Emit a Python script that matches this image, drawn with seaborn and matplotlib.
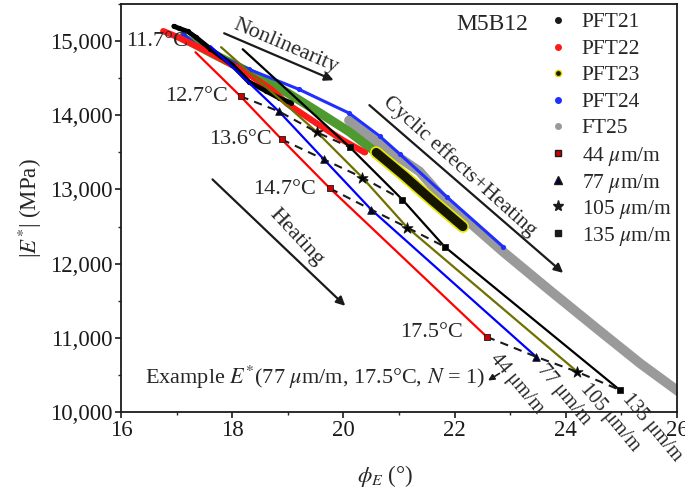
import matplotlib
matplotlib.use('Agg')
import matplotlib.pyplot as plt
import matplotlib.ticker as mticker
import seaborn as sns
import pandas as pd

sns.set_theme(style='white')
plt.rcParams['font.family'] = ['Liberation Serif', 'DejaVu Serif']
plt.rcParams['mathtext.fontset'] = 'stix'

# ---------------- data ----------------
temps = [11.7, 12.7, 13.6, 14.7, 17.5]
temp_labels = ['11.7°C', '12.7°C', '13.6°C', '14.7°C', '17.5°C']
strain_labels = ['44 μm/m', '77 μm/m', '105 μm/m', '135 μm/m']

phi_44 = [17.34, 18.15, 18.89, 19.76, 22.58]
E_44 = [14850, 14256, 13675, 13013, 11013]
phi_77 = [17.61, 18.84, 19.65, 20.50, 23.47]
E_77 = [14931, 14053, 13405, 12729, 10743]
phi_105 = [17.80, 19.53, 20.34, 21.15, 24.21]
E_105 = [14918, 13769, 13161, 12486, 10540]
phi_135 = [18.19, 20.12, 21.06, 21.82, 24.97]
E_135 = [14890, 13567, 12864, 12229, 10297]

pft21_phi = [16.95, 17.05, 17.2, 17.35, 17.6, 18.0, 18.3, 18.6, 18.85, 19.05]
pft21_E = [15200, 15170, 15130, 15050, 14900, 14680, 14450, 14330, 14230, 14170]
pft22_phi = [16.76, 17.0, 17.5, 18.2, 18.7, 19.0, 19.5, 20.0, 20.38]
pft22_E = [15134, 15060, 14880, 14600, 14350, 14150, 13900, 13660, 13500]
pft23_phi = [17.1, 17.6, 18.3, 19.0, 19.6, 20.1, 20.59, 21.1, 21.6, 22.15]
pft23_E = [15050, 14850, 14580, 14300, 14020, 13780, 13499, 13180, 12850, 12499]
pft24_phi = [17.12, 17.39, 18.30, 19.20, 20.10, 20.65, 21.01, 21.86, 22.87]
pft24_E = [15093, 14931, 14620, 14350, 14030, 13720, 13480, 12900, 12229]
ft25_phi = [20.1, 20.65, 21.37, 21.86, 22.87, 23.72, 24.63, 25.35, 26.04]
ft25_E = [13930, 13610, 13242, 12824, 12162, 11635, 11081, 10648, 10270]

legend_labels = ['PFT21', 'PFT22', 'PFT23', 'PFT24', 'FT25',
                 r'44 $\mu$m/m', r'77 $\mu$m/m', r'105 $\mu$m/m', r'135 $\mu$m/m']

# ---------------- figure ----------------
fig = plt.figure(figsize=(6.85, 4.93), dpi=100)
ax = fig.add_axes([0.1766, 0.1643, 0.8117, 0.8276])


def cloud(xs, ys, col, lw, z, dots=14):
    d = pd.DataFrame({'x': xs, 'y': ys})
    sns.lineplot(data=d, x='x', y='y', sort=False, color=col, lw=lw, ax=ax,
                 solid_capstyle='round', zorder=z)
    sns.scatterplot(data=d, x='x', y='y', color=col, s=dots, linewidth=0, ax=ax, zorder=z)


# clouds (dense cyclic-test data)
cloud(ft25_phi, ft25_E, '#9a9a9a', 7.0, 2.0)
cloud(pft23_phi, pft23_E, '#4f9a2f', 6.5, 2.1)
d23 = pd.DataFrame({'x': pft23_phi, 'y': pft23_E})
sns.lineplot(data=d23[d23.x >= 20.5], x='x', y='y', sort=False, color='#e6e600', lw=9,
             ax=ax, solid_capstyle='round', zorder=2.2)
sns.lineplot(data=d23[d23.x >= 20.5], x='x', y='y', sort=False, color='#151500', lw=6.5,
             ax=ax, solid_capstyle='round', zorder=2.3)
cloud(pft24_phi, pft24_E, '#1f2fff', 2.2, 2.4)
cloud(pft22_phi, pft22_E, '#ff1a1a', 4.5, 2.5)
cloud(pft21_phi, pft21_E, '#000000', 3.5, 2.6)

# strain lines and markers
strain_sets = [
    (phi_44, E_44, '#ff0000', 's', '#cc0000', 22),
    (phi_77, E_77, '#0000ff', '^', '#000033', 30),
    (phi_105, E_105, '#707000', '*', '#000000', 70),
    (phi_135, E_135, '#000000', 's', '#000000', 14),
]
for xs, ys, col, mk, mcol, ms in strain_sets:
    d = pd.DataFrame({'x': xs, 'y': ys})
    sns.lineplot(data=d, x='x', y='y', sort=False, color=col, lw=1.6, ax=ax, zorder=3)
    sns.scatterplot(data=d.iloc[1:], x='x', y='y', marker=mk, color=mcol, s=ms,
                    edgecolor='k', linewidth=0.6, ax=ax, zorder=5)

# isotherm dashed lines
for i in range(1, len(temps)):
    d = pd.DataFrame({'x': [phi_44[i], phi_77[i], phi_105[i], phi_135[i]],
                      'y': [E_44[i], E_77[i], E_105[i], E_135[i]]})
    sns.lineplot(data=d, x='x', y='y', sort=False, color='k', lw=1.5,
                 linestyle=(0, (4, 3)), ax=ax, zorder=4)

# temperature labels
temp_pos = [(17.21, 15000), (17.93, 14256), (18.71, 13675), (19.51, 13000), (22.15, 11067)]
for (tx, ty), lab in zip(temp_pos, temp_labels):
    ax.text(tx, ty, lab, ha='right', va='center', fontsize=16, zorder=6)

# arrows with annotations
arrow_kw = dict(arrowstyle='-|>', color='k', lw=1.6, mutation_scale=13)
ax.annotate('', xy=(19.87, 14458), xytext=(17.81, 15120), arrowprops=arrow_kw)
ax.text(18.97, 14931, 'Nonlinearity', rotation=-23, ha='center', va='center',
        rotation_mode='anchor', fontsize=16)
ax.annotate('', xy=(23.99, 11851), xytext=(20.43, 14161), arrowprops=arrow_kw)
ax.text(22.09, 13310, 'Cyclic effects+Heating', rotation=-42, ha='center', va='center',
        rotation_mode='anchor', fontsize=15.5)
ax.annotate('', xy=(20.07, 11405), xytext=(17.61, 13161), arrowprops=arrow_kw)
ax.text(19.15, 12351, 'Heating', rotation=-47, ha='center', va='center',
        rotation_mode='anchor', fontsize=16)

ax.text(16.43, 10473, r'Example $E^{*}$(77 $\mu$m/m, 17.5°C, $N$ = 1)', ha='left',
        va='center', fontsize=16)
ax.annotate('', xy=(22.56, 10405), xytext=(22.85, 10540),
            arrowprops=dict(arrowstyle='-|>', color='k', lw=1.2, mutation_scale=9))

end_pos = [(23.12, 10380), (23.96, 10230), (24.79, 9920), (25.55, 9790)]
for (tx, ty), lab in zip(end_pos, strain_labels):
    ax.text(tx, ty, lab, rotation=-50, ha='center', va='center', rotation_mode='anchor',
            fontsize=14.5, clip_on=False)

# axes formatting
ax.set_xlim(16, 26)
ax.set_ylim(10000, 15500)
ax.xaxis.set_major_locator(mticker.MultipleLocator(2))
ax.xaxis.set_minor_locator(mticker.MultipleLocator(1))
ax.yaxis.set_major_locator(mticker.MultipleLocator(1000))
ax.yaxis.set_minor_locator(mticker.MultipleLocator(500))
ax.yaxis.set_major_formatter(mticker.FuncFormatter(lambda v, p: f'{v:,.0f}'))
ax.tick_params(which='major', direction='out', length=4, width=1.2, labelsize=16.5,
               pad=2, left=True, bottom=True, top=False, right=False, colors='k')
ax.tick_params(which='minor', direction='out', length=2.5, width=1.0,
               left=True, bottom=True, top=False, right=False)
for sp in ax.spines.values():
    sp.set_color('k')
    sp.set_linewidth(1.3)
    sp.set_visible(True)
ax.set_xlabel(r'$\phi_E$ (°)', fontsize=16.5, labelpad=16)
ax.xaxis.set_label_coords(0.475, -0.125)
ax.set_ylabel(r'|$E^{*}$| (MPa)', fontsize=16.5, labelpad=4)

# legend (fixed rows, axes-fraction coordinates)
leg_markers = [
    dict(marker='o', mfc='k', mec='k', ms=4),
    dict(marker='o', mfc='#ff1a1a', mec='#ff1a1a', ms=4),
    dict(marker='o', mfc='#1a1a00', mec='#d8d800', ms=4.5),
    dict(marker='o', mfc='#1f2fff', mec='#1f2fff', ms=4),
    dict(marker='o', mfc='#9a9a9a', mec='#9a9a9a', ms=4),
    dict(marker='s', mfc='#cc0000', mec='k', ms=5),
    dict(marker='^', mfc='#000033', mec='k', ms=5.5),
    dict(marker='*', mfc='k', mec='k', ms=8),
    dict(marker='s', mfc='k', mec='k', ms=4),
]
row0, row_step = 0.961, 0.0652
for i, (mk, lab) in enumerate(zip(leg_markers, legend_labels)):
    yy = row0 - i * row_step
    ax.plot([0.786], [yy], ls='', transform=ax.transAxes, clip_on=False, zorder=7, **mk)
    ax.text(0.829, yy, lab, transform=ax.transAxes, ha='left', va='center_baseline',
            fontsize=15.5, zorder=7)
ax.text(0.604, 0.949, 'M5B12', transform=ax.transAxes, ha='left', va='center', fontsize=17)

fig.savefig('out.png', dpi=100)
